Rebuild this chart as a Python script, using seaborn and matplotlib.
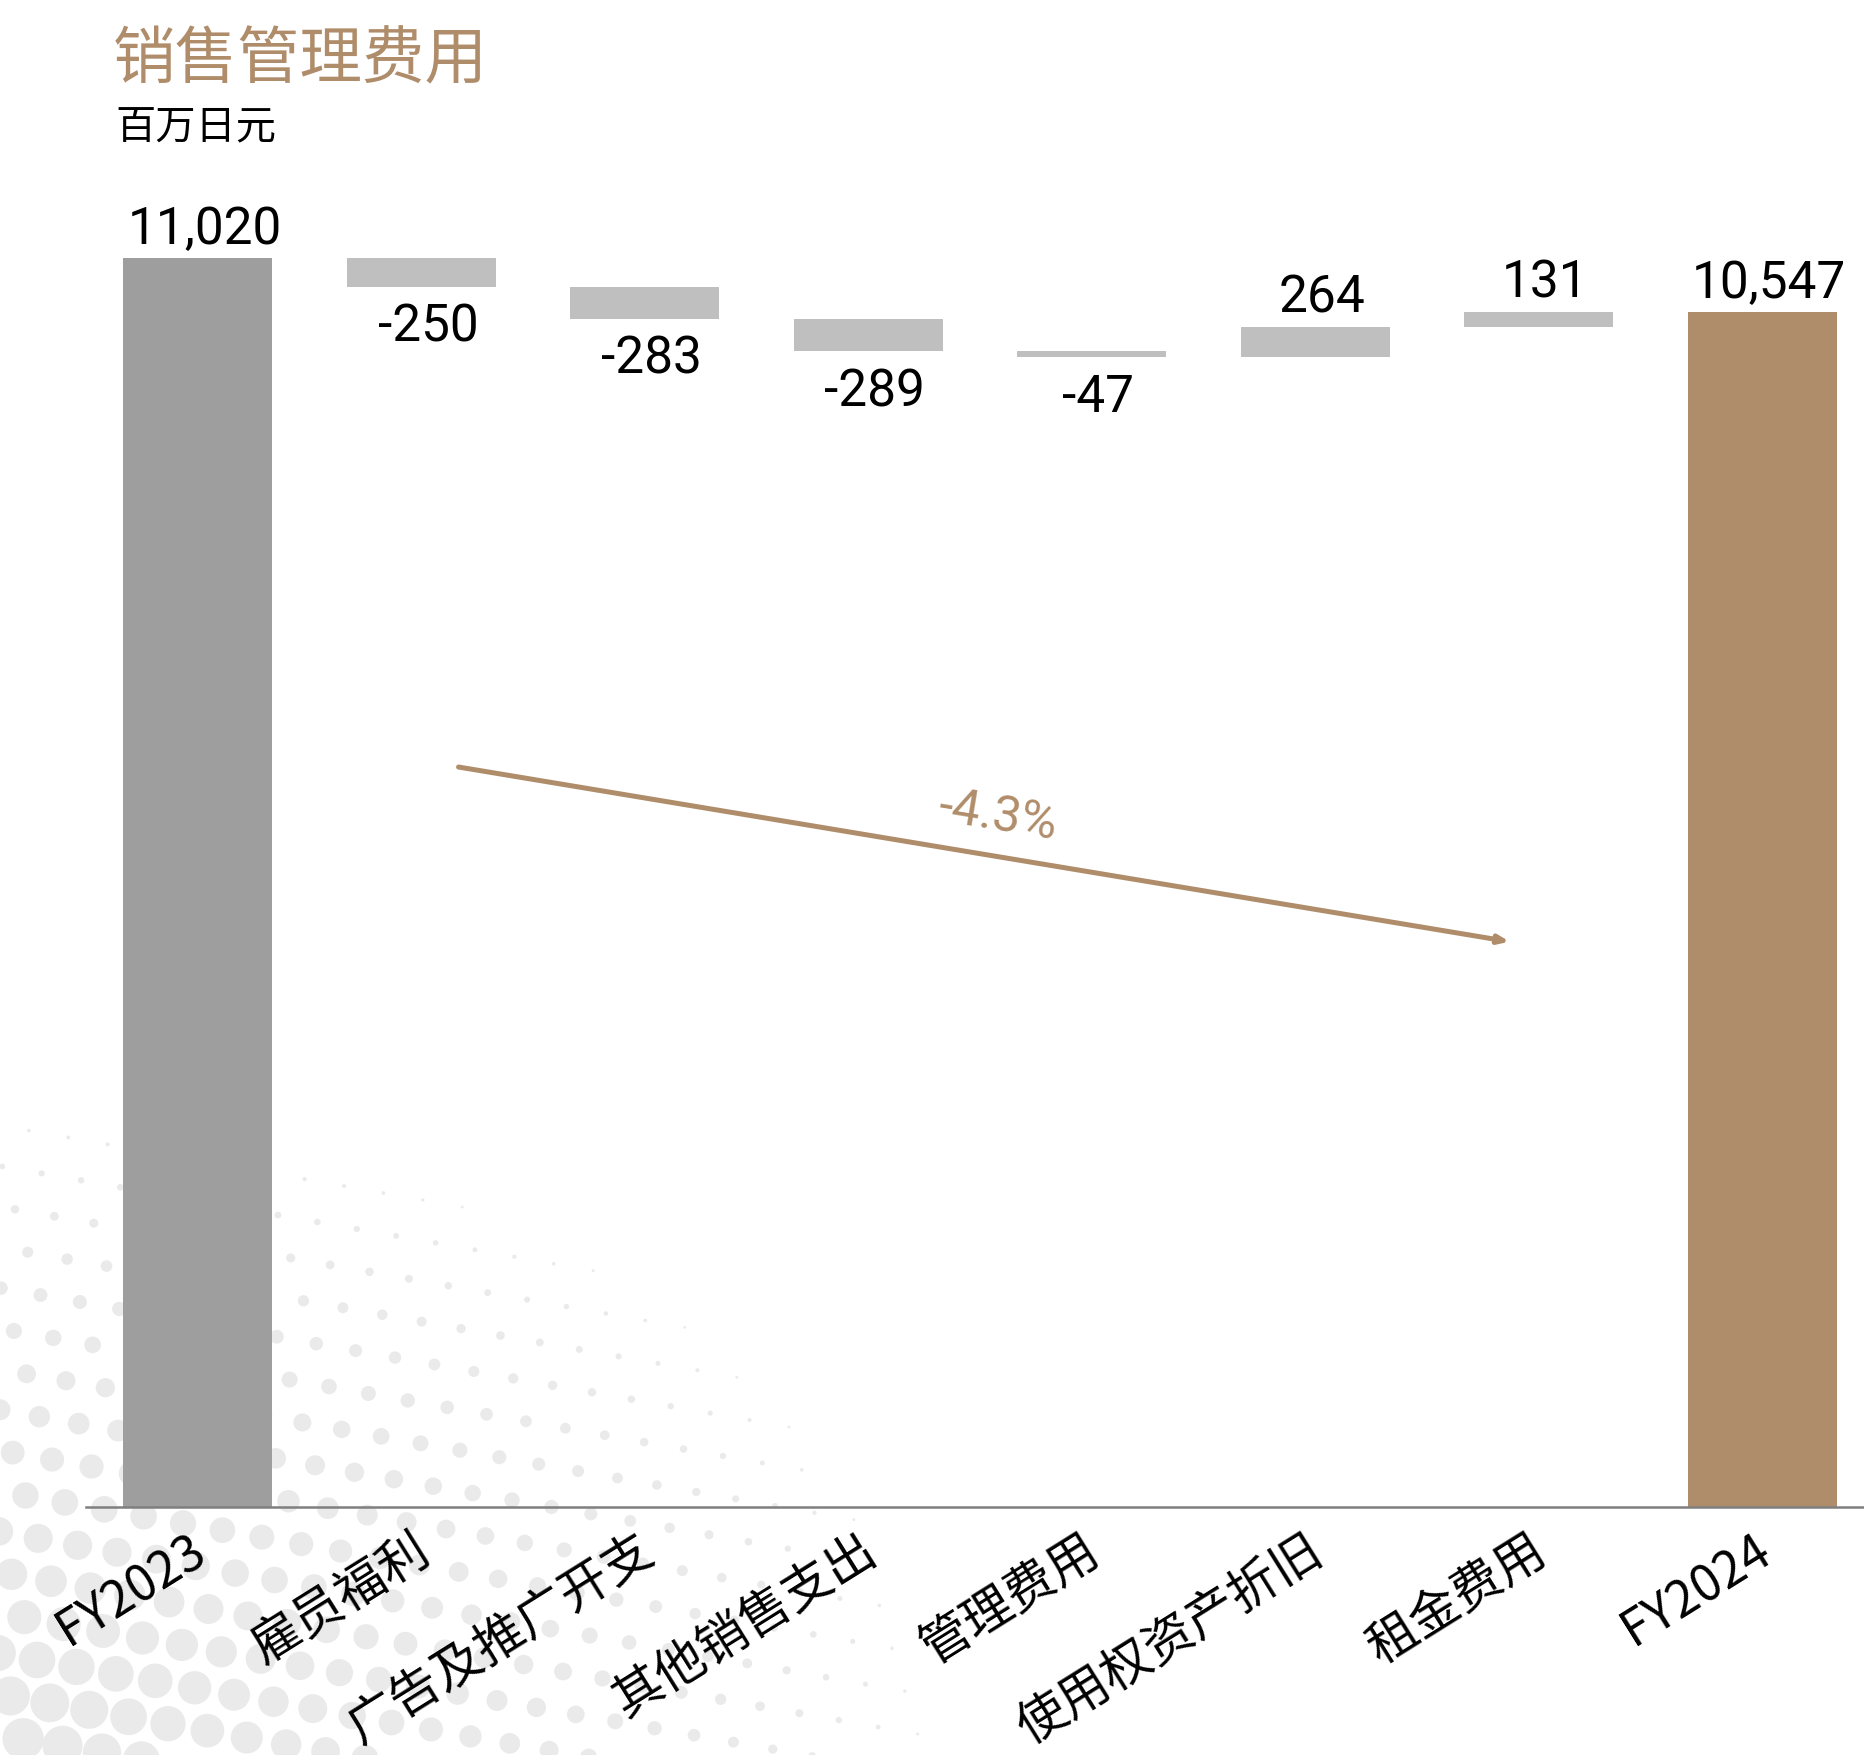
import numpy as np
import pandas as pd
import matplotlib
matplotlib.use("Agg")
import matplotlib.pyplot as plt
from matplotlib import font_manager as fm
import seaborn as sns

# ---- data -------------------------------------------------------------
categories = ["FY2023", "雇员福利", "广告及推广开支", "其他销售支出",
              "管理费用", "使用权资产折旧", "租金费用", "FY2024"]
start_total = 11020
changes = [-250, -283, -289, -47, 264, 131]
end_total = 10547
value_labels = ["11,020", "-250", "-283", "-289", "-47", "264", "131", "10,547"]
change_label = "-4.3%"

# ---- waterfall geometry derived from the data -------------------------
levels = [start_total]
for c in changes:
    levels.append(levels[-1] + c)

bottoms = [0]
heights = [start_total]
for i, c in enumerate(changes):
    prev, new = levels[i], levels[i + 1]
    bottoms.append(min(prev, new))
    heights.append(abs(c))
bottoms.append(0)
heights.append(end_total)

df = pd.DataFrame({"category": categories, "height": heights, "bottom": bottoms})

# ---- styling ------------------------------------------------------------
GOLD = "#B08D6A"
DARK_GREY = "#9E9E9E"
LIGHT_GREY = "#BFBFBF"
bar_colors = [DARK_GREY] + [LIGHT_GREY] * len(changes) + [GOLD]

sns.set_theme(style="white")
CJK = ["Noto Sans CJK SC", "DejaVu Sans"]
plt.rcParams["font.family"] = CJK


def pick_font(names):
    for name in names:
        try:
            fm.findfont(fm.FontProperties(family=name), fallback_to_default=False)
            return name
        except Exception:
            continue
    return "DejaVu Sans"


NUM_FONT = pick_font(["Liberation Sans Narrow", "Roboto", "Liberation Sans"])

fig = plt.figure(figsize=(18.65, 17.56), dpi=100)
fig.patch.set_facecolor("white")

# decorative halftone dots fanning out from the lower-left corner
bg = fig.add_axes([0, 0, 1, 1], zorder=0)
bg.set_xlim(0, 1865)
bg.set_ylim(0, 1756)
bg.axis("off")
gx, gy = np.meshgrid(np.arange(-200, 1400, 40.0), np.arange(-100, 900, 40.0))
gx = gx + (np.arange(gy.shape[0])[:, None] % 2) * 20
ang = np.deg2rad(-10)
rx = gx * np.cos(ang) - gy * np.sin(ang)
ry = gx * np.sin(ang) + gy * np.cos(ang)
dist = np.hypot(rx / 1.45, ry) / 680
size = np.clip(1 - dist, 0, None) ** 2.0 * 950
mask = (size > 3) & (rx >= -10) & (ry >= -10)
bg.scatter(rx[mask], ry[mask], s=size[mask], color="#EAEAEA",
           edgecolors="none", marker="o")

# ---- main axes -----------------------------------------------------------
ax = fig.add_axes([0.0461, 0.14112, 0.9539, 0.77447], zorder=1)
ax.set_facecolor("none")

sns.barplot(data=df, x="category", y="height", order=categories,
            bottom=df["bottom"].to_numpy(), width=0.665, ax=ax,
            color=LIGHT_GREY, saturation=1, errorbar=None)
for patch, col in zip(ax.patches, bar_colors):
    patch.set_facecolor(col)
    patch.set_edgecolor("none")

ax.set_xlim(-0.5, 7.46)
ax.set_ylim(0, 12000)
ax.set_xlabel("")
ax.set_ylabel("")
ax.set_yticks([])
for side in ["left", "right", "top"]:
    ax.spines[side].set_visible(False)
ax.spines["bottom"].set_color("#7F7F7F")
ax.spines["bottom"].set_linewidth(1.8)

# category labels, slanted below the baseline
ax.set_xticks(range(len(categories)))
ax.set_xticklabels([])
ax.tick_params(axis="x", length=0)
for i, cat in enumerate(categories):
    ax.annotate(cat, (i, 0), xytext=(-7, -12), textcoords="offset points",
                rotation=32, rotation_mode="anchor", ha="right", va="top",
                fontsize=36, family=CJK, color="black", annotation_clip=False)

# value labels
for i, lab in enumerate(value_labels):
    top = bottoms[i] + heights[i]
    is_drop = 0 < i < len(categories) - 1 and changes[i - 1] < 0
    if is_drop:
        ax.annotate(lab, (i + 0.03, bottoms[i]), xytext=(0, -11), textcoords="offset points",
                    ha="center", va="top", fontsize=37, family=NUM_FONT, color="black")
    else:
        ax.annotate(lab, (i + 0.03, top), xytext=(0, 11), textcoords="offset points",
                    ha="center", va="baseline", fontsize=37, family=NUM_FONT, color="black")

# overall change arrow
ax.annotate("", xy=(5.87, 4990), xytext=(1.167, 6531),
            arrowprops=dict(arrowstyle="-|>,head_length=0.5,head_width=0.2",
                            color=GOLD, lw=3.6, shrinkA=0, shrinkB=0))
ax.text(3.578, 6108, change_label, rotation=-9.4, rotation_mode="anchor",
        ha="center", va="center", fontsize=36, family=NUM_FONT, color=GOLD)

# titles
fig.text(113 / 1865, 1 - 28 / 1756, "销售管理费用", ha="left", va="top",
         fontsize=45, color=GOLD, family=CJK)
fig.text(115 / 1865, 1 - 107 / 1756, "百万日元", ha="left", va="top",
         fontsize=29, color="black", family=CJK)

fig.savefig("out.png", dpi=100, facecolor="white")
